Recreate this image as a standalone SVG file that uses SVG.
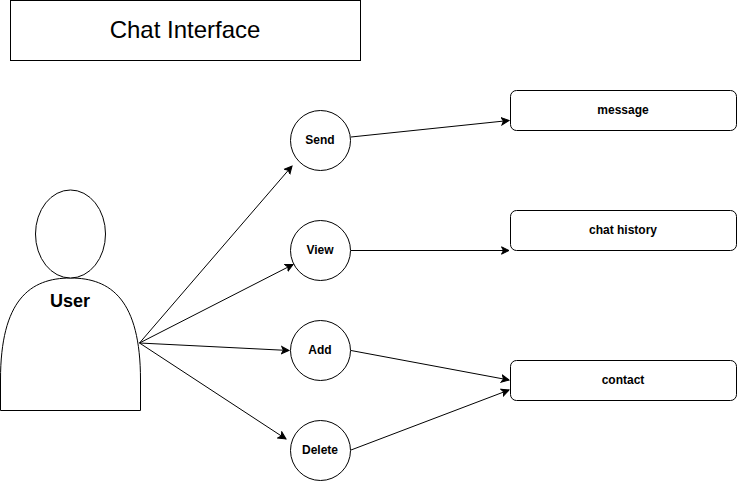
<svg xmlns="http://www.w3.org/2000/svg" width="737" height="482" viewBox="0 0 737 482">
<style>
.s{fill:#fff;stroke:#000;stroke-width:1}
.l{fill:none;stroke:#000;stroke-width:1;marker-end:url(#a)}
text{font-family:"Liberation Sans",Arial,sans-serif;fill:#000;text-anchor:middle}
.b{font-size:12px;font-weight:bold}
</style>
<defs>
<marker id="a" markerUnits="userSpaceOnUse" markerWidth="10" markerHeight="10" refX="8" refY="4.5" orient="auto" viewBox="0 0 10 9">
<path d="M0.5 0.8 L8 4.5 L0.5 8.2 L2.4 4.5 Z" fill="#000" stroke="#000" stroke-width="1"/>
</marker>
</defs>
<rect width="737" height="482" fill="#fff"/>
<g id="title"><rect class="s" x="10.5" y="0.5" width="350" height="60"/><text x="185" y="38" font-size="24">Chat Interface</text></g>
<g id="user">
<path class="s" d="M0.5 410.500 V380 C0.500 300 30 278 70.500 278 C111 278 140.500 300 140.500 380 V410.500 Z"/>
<ellipse class="s" cx="70.500" cy="234" rx="35" ry="44"/>
<text x="70" y="307" font-size="18" font-weight="bold">User</text>
</g>
<g id="connectors">
<line class="l" x1="139.500" y1="343" x2="292" y2="166"/>
<line class="l" x1="139.500" y1="343" x2="293" y2="264.500"/>
<line class="l" x1="139.500" y1="343" x2="289" y2="350.500"/>
<line class="l" x1="139.500" y1="343" x2="286" y2="439"/>
<line class="l" x1="351" y1="137" x2="509" y2="120.500"/>
<line class="l" x1="351" y1="250.500" x2="509" y2="250.500"/>
<line class="l" x1="351" y1="350.500" x2="509" y2="380"/>
<line class="l" x1="351" y1="450" x2="509" y2="390"/>
</g>
<g id="send"><circle class="s" cx="320.500" cy="140.500" r="30"/><text class="b" x="320" y="144">Send</text></g>
<g id="view"><circle class="s" cx="320.500" cy="250.500" r="30"/><text class="b" x="320" y="254">View</text></g>
<g id="add"><circle class="s" cx="320.500" cy="350.500" r="30"/><text class="b" x="320" y="354">Add</text></g>
<g id="delete"><circle class="s" cx="320.500" cy="450.500" r="30"/><text class="b" x="320" y="454">Delete</text></g>
<g id="message"><rect class="s" x="510.500" y="90.500" width="226" height="40" rx="6"/><text class="b" x="623" y="114">message</text></g>
<g id="history"><rect class="s" x="510.500" y="210.500" width="226" height="40" rx="6"/><text class="b" x="623" y="234">chat history</text></g>
<g id="contact"><rect class="s" x="510.500" y="360.500" width="226" height="40" rx="6"/><text class="b" x="623" y="384">contact</text></g>
</svg>
